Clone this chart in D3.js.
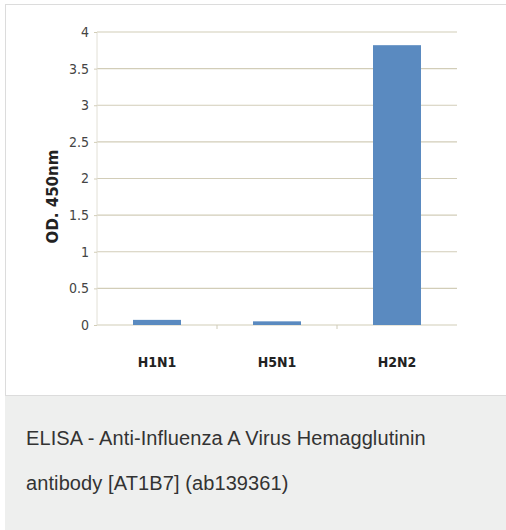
<!DOCTYPE html>
<html>
<head>
<meta charset="utf-8">
<script src="https://cdn.jsdelivr.net/npm/d3@7"></script>
<style>
  body { margin: 0; background: #fff; font-family: "Liberation Sans", Arial, sans-serif; }
  #card { position: absolute; left: 5px; top: 4px; width: 510px; height: 390px; border: 1px solid #dcdcdc; background: #fff; }
  #caption { position: absolute; left: 5px; top: 396px; width: 510px; height: 134px; background: #eeefee; }
  #caption p { margin: 0; position: absolute; left: 21px; font-size: 20px; letter-spacing: 0.1px; color: #333; }
</style>
</head>
<body>
<div id="card"><svg id="chart"></svg></div>
<div id="caption">
  <p style="top:31px">ELISA - Anti-Influenza A Virus Hemagglutinin</p>
  <p style="top:76px">antibody [AT1B7] (ab139361)</p>
</div>
<script>
(() => {

  const categories = ['H1N1', 'H5N1', 'H2N2'];
  const values = [0.07, 0.05, 3.82];
  const yTicks = [0, 0.5, 1, 1.5, 2, 2.5, 3, 3.5, 4];
  const yTitle = 'OD. 450nm';

  const svgWidth = 500;
  const svgHeight = 388;
  // card is offset by 6,5 in page coords
  const left = 91, right = 451, top = 27, bottom = 320;

  const svg = d3.select('#chart')
    .attr('width', svgWidth)
    .attr('height', svgHeight);

  const x = d3.scaleBand()
    .domain(categories)
    .range([left, right])
    .paddingInner(0.6)
    .paddingOuter(0.3);

  const y = d3.scaleLinear()
    .domain([0, 4])
    .range([bottom, top]);

  // gridlines
  svg.append('g')
    .selectAll('line')
    .data(yTicks)
    .enter()
    .append('line')
    .attr('x1', left)
    .attr('x2', right)
    .attr('y1', d => y(d))
    .attr('y2', d => y(d))
    .attr('stroke', '#d2cdb8')
    .attr('stroke-width', 1.2);

  // y axis line
  svg.append('line')
    .attr('x1', left).attr('x2', left)
    .attr('y1', top).attr('y2', bottom)
    .attr('stroke', '#e2e0d6');

  const yAxis = svg.append('g')
    .attr('transform', `translate(${left},0)`)
    .call(d3.axisLeft(y).tickValues(yTicks).tickSize(3).tickPadding(5).tickFormat(d3.format('')));
  yAxis.select('.domain').remove();
  yAxis.selectAll('line').attr('stroke', '#d2cdb8');
  yAxis.selectAll('text')
    .attr('fill', '#444')
    .style('font-family', '"DejaVu Sans Condensed", "DejaVu Sans", sans-serif')
    .style('font-size', '14px');

  // x axis with ticks between categories
  const boundaries = categories.slice(1).map(c => x(c) - x.step() * x.paddingInner() / 2);
  svg.append('g')
    .selectAll('line')
    .data(boundaries)
    .enter()
    .append('line')
    .attr('x1', d => d).attr('x2', d => d)
    .attr('y1', bottom).attr('y2', bottom + 4)
    .attr('stroke', '#cfcbb8');

  svg.append('g')
    .selectAll('text')
    .data(categories)
    .enter()
    .append('text')
    .text(d => d)
    .attr('x', d => x(d) + x.bandwidth() / 2)
    .attr('y', bottom + 42)
    .attr('text-anchor', 'middle')
    .attr('fill', '#222')
    .style('font-family', '"DejaVu Sans Condensed", "DejaVu Sans", sans-serif')
    .style('font-weight', 'bold')
    .style('font-size', '14px');

  // bars
  svg.append('g')
    .selectAll('rect')
    .data(values)
    .enter()
    .append('rect')
    .attr('x', (d, i) => x(categories[i]))
    .attr('y', d => y(d))
    .attr('width', x.bandwidth())
    .attr('height', d => y(0) - y(d))
    .attr('fill', '#5a8ac0');

  // y title
  svg.append('text')
    .text(yTitle)
    .attr('transform', `translate(${left - 39},${(top + bottom) / 2 + 18}) rotate(-90)`)
    .attr('text-anchor', 'middle')
    .attr('fill', '#222')
    .style('font-family', '"DejaVu Sans", sans-serif')
    .style('font-weight', 'bold')
    .style('font-size', '15px');

})();
</script>
</body>
</html>
